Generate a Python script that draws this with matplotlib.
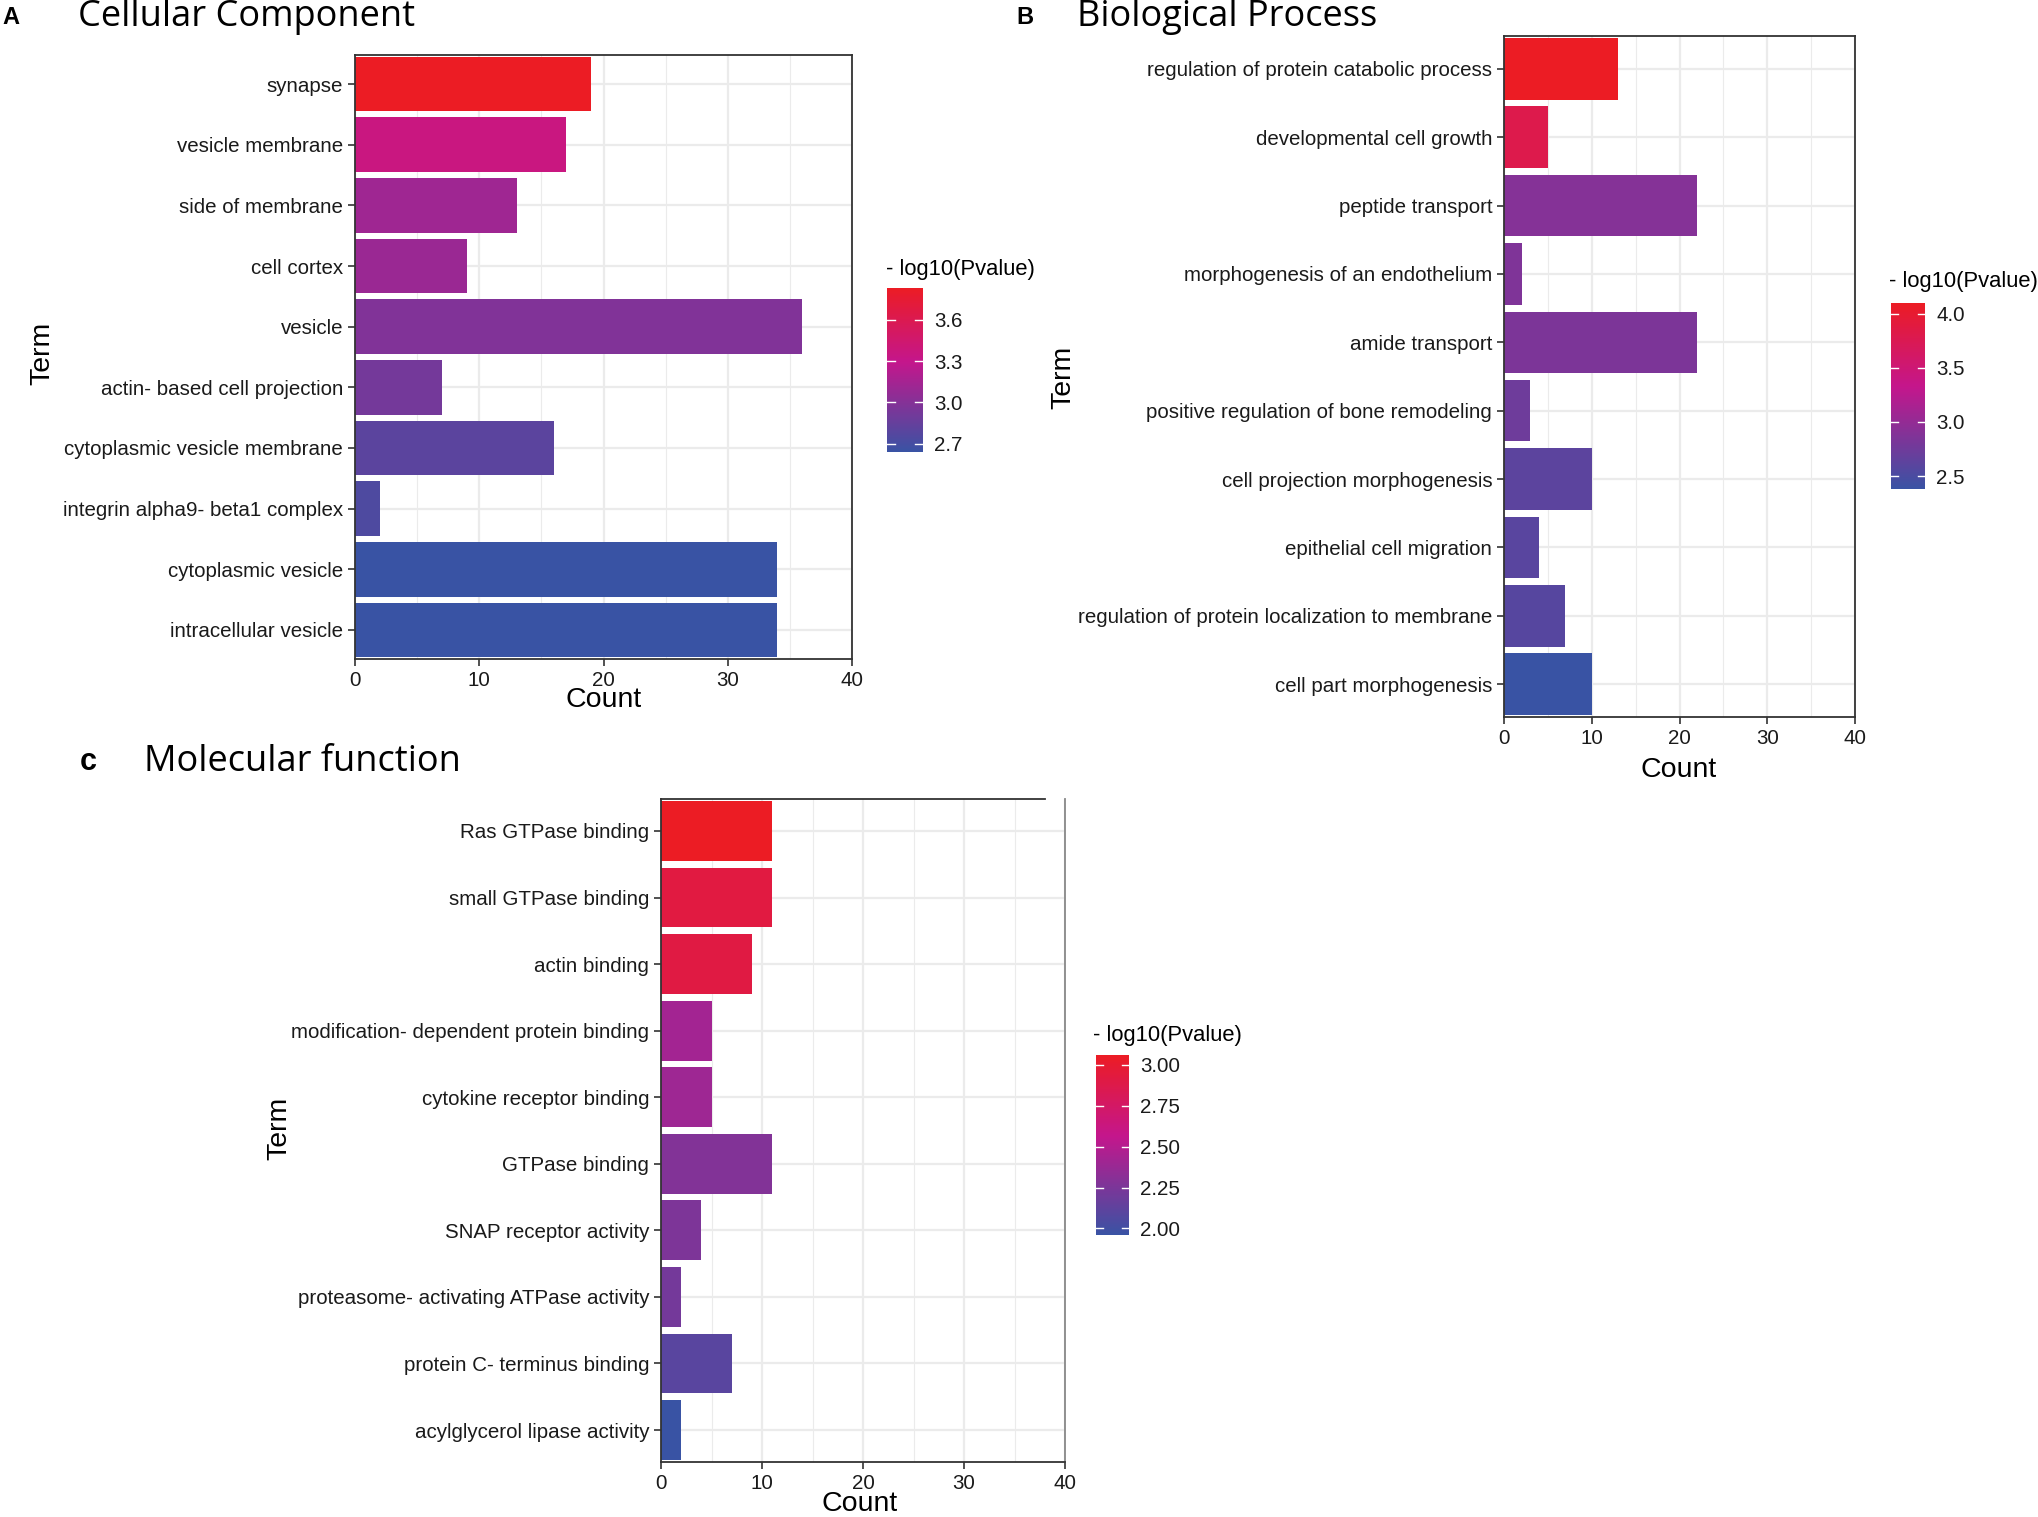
import numpy as np
import matplotlib
matplotlib.use("Agg")
import matplotlib.pyplot as plt
from matplotlib.colors import LinearSegmentedColormap, Normalize
from matplotlib.cm import ScalarMappable

plt.rcParams['font.family'] = ['Liberation Sans', 'DejaVu Sans']

# --- data (top to bottom as in the picture) ---
cc_terms = ["synapse", "vesicle membrane", "side of membrane", "cell cortex", "vesicle",
            "actin- based cell projection", "cytoplasmic vesicle membrane",
            "integrin alpha9- beta1 complex", "cytoplasmic vesicle", "intracellular vesicle"]
cc_count = [19, 17, 13, 9, 36, 7, 16, 2, 34, 34]
cc_logp = [3.83, 3.36, 3.12, 3.10, 2.98, 2.92, 2.80, 2.74, 2.64, 2.64]
cc_ticks = [2.7, 3.0, 3.3, 3.6]

bp_terms = ["regulation of protein catabolic process", "developmental cell growth",
            "peptide transport", "morphogenesis of an endothelium", "amide transport",
            "positive regulation of bone remodeling", "cell projection morphogenesis",
            "epithelial cell migration", "regulation of protein localization to membrane",
            "cell part morphogenesis"]
bp_count = [13, 5, 22, 2, 22, 3, 10, 4, 7, 10]
bp_logp = [4.10, 3.80, 2.90, 2.86, 2.84, 2.74, 2.62, 2.60, 2.58, 2.38]
bp_ticks = [2.5, 3.0, 3.5, 4.0]

mf_terms = ["Ras GTPase binding", "small GTPase binding", "actin binding",
            "modification- dependent protein binding", "cytokine receptor binding",
            "GTPase binding", "SNAP receptor activity",
            "proteasome- activating ATPase activity", "protein C- terminus binding",
            "acylglycerol lipase activity"]
mf_count = [11, 11, 9, 5, 5, 11, 4, 2, 7, 2]
mf_logp = [3.06, 2.92, 2.91, 2.42, 2.40, 2.28, 2.26, 2.22, 2.10, 1.96]
mf_ticks = [2.00, 2.25, 2.50, 2.75, 3.00]

cmap = LinearSegmentedColormap.from_list(
    "gobar", [(0, "#3953A4"), (0.55, "#C4168C"), (1, "#EC1C24")])

W, H = 2038, 1517
fig = plt.figure(figsize=(W / 100, H / 100), dpi=100)


def px(x0, y0, x1, y1):
    # pixel box -> figure fraction rect
    return [x0 / W, 1 - y1 / H, (x1 - x0) / W, (y1 - y0) / H]


def panel(ax_box, cb_box, terms, counts, logp, ticks, cb_fmt, partial_top=False):
    ax = fig.add_axes(px(*ax_box))
    n = len(terms)
    ypos = np.arange(n)[::-1]
    norm = Normalize(min(logp), max(logp))
    ax.set_axisbelow(True)
    ax.barh(ypos, counts, height=0.9, color=cmap(norm(logp)), edgecolor="none")
    ax.set_xlim(0, 40)
    ax.set_ylim(-0.48, n - 1 + 0.48)
    ax.set_yticks(ypos)
    ax.set_yticklabels(terms)
    ax.set_xticks([0, 10, 20, 30, 40])
    ax.set_xticks([5, 15, 25, 35], minor=True)
    ax.tick_params(axis="both", which="major", labelsize=14.8, length=5,
                   width=1.2, color="#333333", labelcolor="#1a1a1a")
    ax.tick_params(axis="x", which="minor", length=0)
    ax.grid(True, which="major", color="#EBEBEB", linewidth=1.6)
    ax.grid(True, which="minor", axis="x", color="#EBEBEB", linewidth=0.8)
    for s in ax.spines.values():
        s.set_color("#333333")
        s.set_linewidth(1.3)
    if partial_top:
        ax.spines["top"].set_bounds(0, 38)
        ax.spines["right"].set_color("#888888")

    cax = fig.add_axes(px(*cb_box))
    sm = ScalarMappable(norm=norm, cmap=cmap)
    cb = fig.colorbar(sm, cax=cax, ticks=ticks)
    cb.outline.set_visible(False)
    cb.ax.set_yticklabels([cb_fmt.format(t) for t in ticks])
    cb.ax.tick_params(labelsize=14.8, length=0, pad=8, labelcolor="#1a1a1a")
    for t in ticks:
        cax.plot([0, 0.22], [t, t], color="white", lw=1.0, transform=cax.get_yaxis_transform())
        cax.plot([0.78, 1], [t, t], color="white", lw=1.0, transform=cax.get_yaxis_transform())
    return ax


panel((355, 55, 852, 659), (887, 288, 923, 452), cc_terms, cc_count, cc_logp, cc_ticks, "{:.1f}")
panel((1504, 36, 1855, 717), (1891, 303, 1925, 489), bp_terms, bp_count, bp_logp, bp_ticks, "{:.1f}")
panel((661, 799, 1065, 1462), (1096, 1055, 1129, 1235), mf_terms, mf_count, mf_logp, mf_ticks, "{:.2f}",
      partial_top=True)

# colour bar titles
for (x, y) in [(886, 270), (1889, 282), (1093, 1035)]:
    fig.text(x / W, 1 - y / H, "- log10(Pvalue)", fontsize=15.8, ha="left", va="center")

# axis titles
for (x, y) in [(42, 353), (1063, 377), (279, 1128)]:
    fig.text(x / W, 1 - y / H, "Term", fontsize=20.5, rotation=90, ha="center", va="center")
for (x, y) in [(604, 700), (1679, 770), (860, 1504)]:
    fig.text(x / W, 1 - y / H, "Count", fontsize=20.5, ha="center", va="center")

# panel titles and letters
for (lx, tx, y, letter, size, title) in [(2, 78, 17, "A", 17, "Cellular Component"),
                                         (1016, 1077, 17, "B", 17, "Biological Process"),
                                         (80, 144, 762, "c", 22, "Molecular function")]:
    fig.text(lx / W, 1 - y / H, letter, fontsize=size, fontweight="bold", ha="left", va="center")
    fig.text(tx / W, 1 - y / H, title, fontsize=26, family=["Open Sans", "DejaVu Sans"],
             ha="left", va="center")

fig.savefig("out.png", dpi=100)
